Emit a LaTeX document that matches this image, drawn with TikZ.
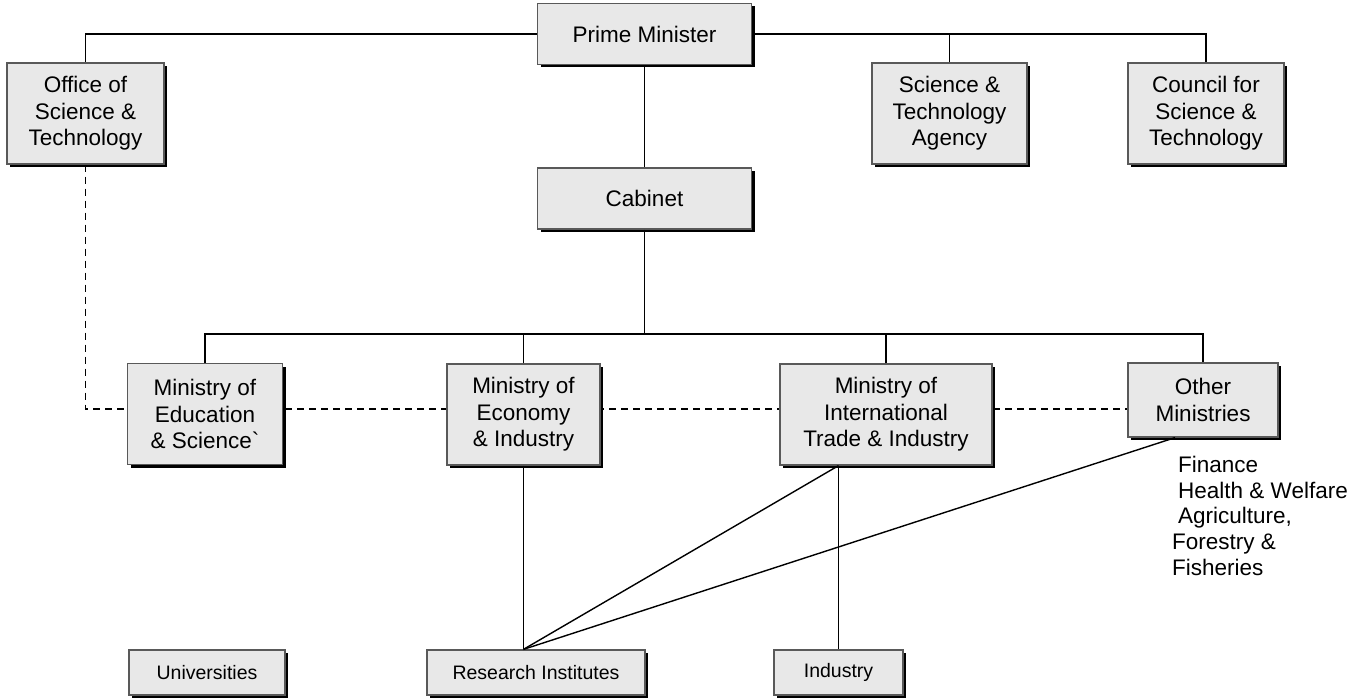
\documentclass[tikz,border=0pt]{standalone}
\usepackage{fontspec}
\setmainfont{Liberation Sans}
\usetikzlibrary{positioning, shadows, backgrounds}

\begin{document}
\begin{tikzpicture}[x=1pt, y=-1pt, node distance=2cm]
	\tikzstyle{box} = [rectangle, minimum width=155pt, minimum height=101pt, text centered, align=center, inner sep=0pt, draw=black!65, line width=1.3pt, fill=black!9, drop shadow={shadow xshift=3pt, shadow yshift=-3pt, fill=black, opacity=1}, font=\fontsize{22.5}{26.5}\selectfont]
	\tikzstyle{wide} = [box, minimum width=214pt, minimum height=61pt]
	\tikzstyle{small} = [box, minimum height=45pt, font=\fontsize{19.5}{23}\selectfont]
	\tikzstyle{link} = [line width=1.4pt]
	\tikzstyle{dashlink} = [line width=1.4pt, dash pattern=on 7pt off 5pt]

	\useasboundingbox (0,0) rectangle (1351,698);

	\node (pm) [wide] at (644.5,34) {Prime Minister};
	\node (cabinet) [wide, below of=pm, node distance=164.5pt] {Cabinet};
	\node (office) [box, minimum width=157pt] at (85.5,113.5) {Office of\\Science \&\\Technology};
	\node (sta) [box] at (949.5,113.5) {Science \&\\Technology\\Agency};
	\node (council) [box, minimum width=156pt] at (1206,113.5) {Council for\\Science \&\\Technology};

	\node (edu) [box] at (205,414) {Ministry of\\Education\\\& Science\textasciigrave};
	\node (econ) [box, minimum width=153pt] at (523.5,414.5) {Ministry of\\Economy\\\& Industry};
	\node (miti) [box, minimum width=212pt] at (886,414.5) {Ministry of\\International\\Trade \& Industry};
	\node (other) [box, minimum width=150pt, minimum height=74pt] at (1203,400) {Other\\Ministries};
	\node (otherlist) [anchor=north west, align=left, inner sep=0pt, font=\fontsize{22.5}{25.7}\selectfont] at (1172,456)
		{\hspace*{6pt}Finance\\\hspace*{6pt}Health \& Welfare\\\hspace*{6pt}Agriculture,\\Forestry \&\\Fisheries};

	\node (univ) [small, minimum width=156pt] at (207,672.5) {Universities};
	\node (research) [small, minimum width=218pt] at (536,672.5) {Research Institutes};
	\node (industry) [small, minimum width=129pt] at (838.5,672.5) {Industry};

	% top of the tree
	\draw [link] (pm.west) -| (office.north);
	\draw [link] (pm.east) -| (council.north);
	\draw [link] (sta.north) |- (pm.east);
	\draw [link] (pm) -- (cabinet);

	% ministries
	\coordinate (bar) at (644.5,334);
	\draw [link] (cabinet) -- (bar);
	\draw [link] (edu.north) |- (bar) -| (other.north);
	\draw [link] (econ.north) -- (econ.north |- bar);
	\draw [link] (miti.north) -- (miti.north |- bar);

	\coordinate (dashy) at (0,409);
	\begin{scope}[on background layer]
		\draw [dashlink] (office.south) -- (office.south |- dashy) -- (other.west |- dashy);
	\end{scope}

	% bottom row
	\coordinate (foot) at (research.north -| econ.south);
	\draw [link] (econ.south) -- (foot);
	\draw [link] (miti.south -| industry.north) -- (industry.north);
	\draw [link] (miti.south -| industry.north) -- (foot);
	\draw [link] ([xshift=-28pt]other.south) -- (foot);

\end{tikzpicture}
\end{document}
